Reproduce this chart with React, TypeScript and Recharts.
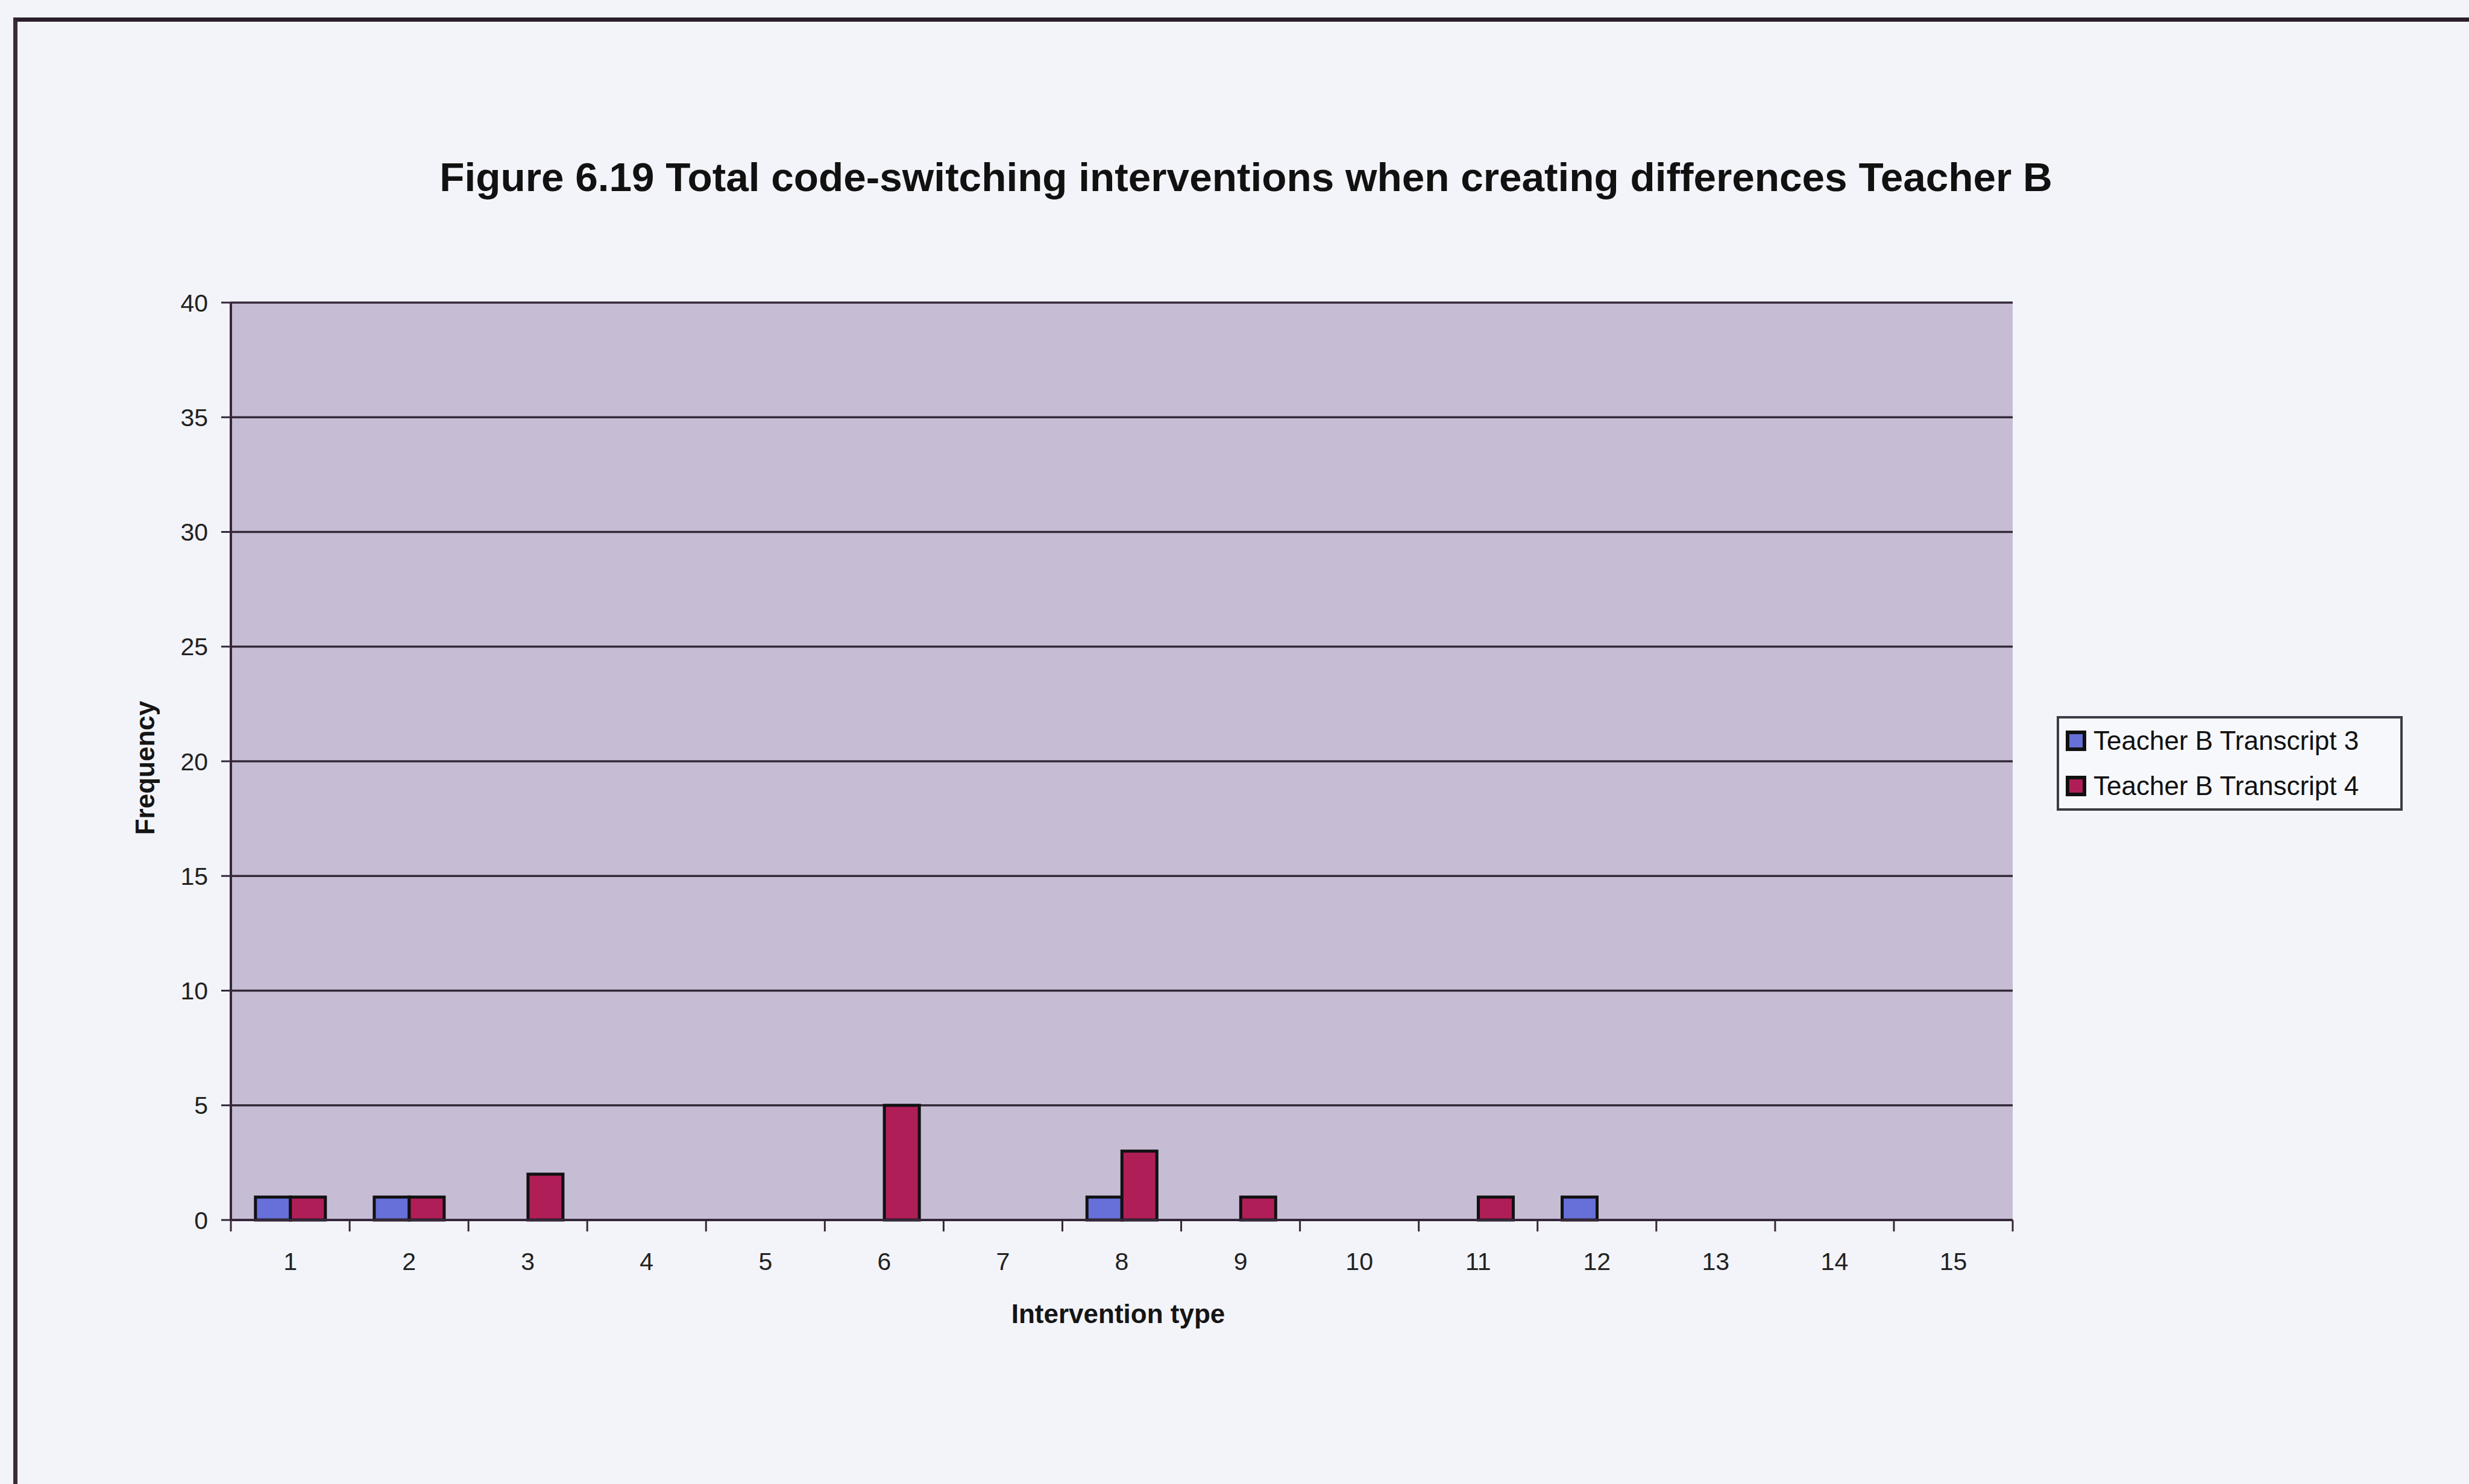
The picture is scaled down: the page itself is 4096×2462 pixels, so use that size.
import React from 'react';
import { BarChart, Bar, XAxis, YAxis, CartesianGrid, Legend } from 'recharts';

// Intervention categories and counts per transcript
const interventionTypes = ['1', '2', '3', '4', '5', '6', '7', '8', '9', '10', '11', '12', '13', '14', '15'];
const transcript3 = [1, 1, 0, 0, 0, 0, 0, 1, 0, 0, 0, 1, 0, 0, 0];
const transcript4 = [1, 1, 2, 0, 0, 5, 0, 3, 1, 0, 1, 0, 0, 0, 0];
const frequencyTicks = [0, 5, 10, 15, 20, 25, 30, 35, 40];

const seriesNames = ['Teacher B Transcript 3', 'Teacher B Transcript 4'];

const data = interventionTypes.map((type, i) => ({
  type,
  t3: transcript3[i],
  t4: transcript4[i],
}));

// Layout
const W = 4096;
const H = 2462;
const PLOT = { left: 383, top: 502, right: 3339, bottom: 2024 };
const Y_AXIS_W = 183;
const X_AXIS_H = 200;

const FONT = '"Liberation Sans", Arial, Helvetica, sans-serif';
const INK = '#35283a';
const PAGE_BG = '#f3f4f9';
const PLOT_BG = '#c6bdd5';
const BLUE = '#6670d8';
const RED = '#b01e58';

function CategoryTick(props: any) {
  const { x, y, payload, index, width } = props;
  const count = interventionTypes.length;
  const axisW = typeof width === 'number' && width > 0 ? width : PLOT.right - PLOT.left;
  const band = axisW / count;
  const left = x - band / 2;
  return (
    <g>
      <line x1={left} x2={left} y1={y} y2={y + 19} stroke={INK} strokeWidth={3} />
      {index === count - 1 && (
        <line x1={left + band} x2={left + band} y1={y} y2={y + 19} stroke={INK} strokeWidth={3} />
      )}
      <text
        x={x}
        y={y + 69}
        textAnchor="middle"
        dominantBaseline="central"
        fontSize={41}
        fontFamily={FONT}
        fill="#222"
      >
        {payload.value}
      </text>
    </g>
  );
}

function FrequencyLabel(props: any) {
  const vb = props.viewBox || { x: 200, y: PLOT.top, width: Y_AXIS_W, height: PLOT.bottom - PLOT.top };
  const cx = vb.x + 40;
  const cy = vb.y + vb.height / 2 + 11;
  return (
    <text
      x={cx}
      y={cy}
      transform={`rotate(-90, ${cx}, ${cy})`}
      textAnchor="middle"
      dominantBaseline="central"
      fontSize={44}
      fontWeight="bold"
      fontFamily={FONT}
      fill="#151515"
    >
      Frequency
    </text>
  );
}

function InterventionLabel(props: any) {
  const vb = props.viewBox || { x: PLOT.left, y: PLOT.bottom, width: PLOT.right - PLOT.left, height: X_AXIS_H };
  return (
    <text
      x={vb.x + vb.width / 2 - 6}
      y={vb.y + 155}
      textAnchor="middle"
      dominantBaseline="central"
      fontSize={44}
      fontWeight="bold"
      fontFamily={FONT}
      fill="#151515"
    >
      Intervention type
    </text>
  );
}

function LegendBox(props: any) {
  const payload = props.payload || [];
  return (
    <div
      style={{
        boxSizing: 'border-box',
        width: 574,
        height: 157,
        border: '4px solid #3c3a44',
        background: '#f7f8fc',
        display: 'flex',
        flexDirection: 'column',
        justifyContent: 'center',
        fontFamily: FONT,
      }}
    >
      {payload.map((item: any) => (
        <div key={item.value} style={{ display: 'flex', alignItems: 'center', height: 79 }}>
          <span
            style={{
              display: 'inline-block',
              boxSizing: 'border-box',
              width: 34,
              height: 34,
              marginLeft: 11,
              background: item.color,
              border: '6px solid #111',
            }}
          />
          <span style={{ marginLeft: 12, fontSize: 44, color: '#111', lineHeight: 1 }}>{item.value}</span>
        </div>
      ))}
    </div>
  );
}

export default function App() {
  return (
    <div
      style={{
        position: 'absolute',
        left: 0,
        top: 0,
        width: W,
        height: H,
        background: PAGE_BG,
        overflow: 'hidden',
      }}
    >
      {/* page frame */}
      <div
        style={{
          position: 'absolute',
          left: 22,
          top: 29,
          width: W + 100,
          height: H + 100,
          borderTop: '7px solid #2b1f2c',
          borderLeft: '7px solid #3a2a3c',
        }}
      />
      <div
        style={{
          position: 'absolute',
          left: 2067 - 2000,
          top: 260,
          width: 4000,
          textAlign: 'center',
          fontFamily: FONT,
          fontWeight: 'bold',
          fontSize: 67.5,
          lineHeight: '67.5px',
          color: '#111',
          whiteSpace: 'nowrap',
        }}
      >
        Figure 6.19 Total code-switching interventions when creating differences Teacher B
      </div>
      <div style={{ position: 'absolute', left: 0, top: 0 }}>
        <BarChart
          width={W}
          height={H}
          data={data}
          margin={{
            top: PLOT.top,
            right: W - PLOT.right,
            bottom: H - PLOT.bottom - X_AXIS_H,
            left: PLOT.left - Y_AXIS_W,
          }}
          barCategoryGap="20.7%"
          barGap={0}
        >
          <CartesianGrid
            vertical={false}
            horizontal
            fill={PLOT_BG}
            fillOpacity={1}
            stroke={INK}
            strokeWidth={3.5}
          />
          <XAxis
            dataKey="type"
            interval={0}
            height={X_AXIS_H}
            tickLine={false}
            tickSize={0}
            tickMargin={0}
            axisLine={{ stroke: INK, strokeWidth: 4 }}
            tick={<CategoryTick />}
            label={(p: any) => <InterventionLabel {...p} />}
          />
          <YAxis
            domain={[0, 40]}
            ticks={frequencyTicks}
            interval={0}
            width={Y_AXIS_W}
            tickSize={16}
            tickMargin={22}
            axisLine={{ stroke: INK, strokeWidth: 4 }}
            tickLine={{ stroke: INK, strokeWidth: 3 }}
            tick={{ fontSize: 41, fill: '#222', fontFamily: FONT }}
            label={(p: any) => <FrequencyLabel {...p} />}
          />
          <Legend
            layout="vertical"
            align="center"
            verticalAlign="middle"
            content={(p: any) => <LegendBox {...p} />}
            wrapperStyle={{ position: 'absolute', left: 3412, top: 1188, width: 574, height: 157 }}
          />
          <Bar
            dataKey="t3"
            name={seriesNames[0]}
            fill={BLUE}
            stroke="#111"
            strokeWidth={5}
            isAnimationActive={false}
          />
          <Bar
            dataKey="t4"
            name={seriesNames[1]}
            fill={RED}
            stroke="#111"
            strokeWidth={5}
            isAnimationActive={false}
          />
        </BarChart>
      </div>
    </div>
  );
}
